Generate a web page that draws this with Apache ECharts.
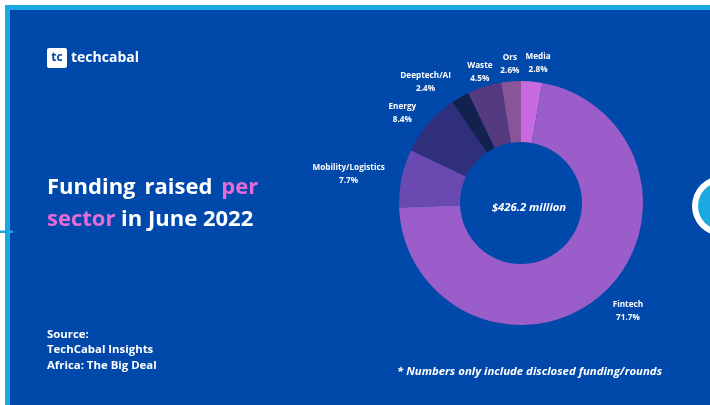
<!DOCTYPE html>
<html>
<head>
<meta charset="utf-8">
<script src="https://cdn.jsdelivr.net/npm/echarts@6/dist/echarts.min.js"></script>
<style>
html,body{margin:0;padding:0;background:#fff;}
#main{width:710px;height:405px;}
</style>
</head>
<body>
<div id="main"></div>
<script>
const sectors = ['Media', 'Fintech', 'Mobility/Logistics', 'Energy', 'Deeptech/AI', 'Waste', 'Ors'];
const shares = [2.8, 71.7, 7.7, 8.4, 2.4, 4.5, 2.6];
const sliceColors = ['#c96be0', '#9a5dc9', '#6a49b0', '#2f2f7c', '#13214f', '#553a80', '#8a5598'];
const totalLabel = '$426.2 million';

// small hand-placement tweaks of the outside labels (pixels), as in the designed original
const labelNudge = {
  'Media': [5, -4],
  'Ors': [0, -3],
  'Waste': [1, 3],
  'Deeptech/AI': [-19, 12],
  'Energy': [-7, 6],
  'Mobility/Logistics': [5, 8],
  'Fintech': [10, -3]
};

const chart = echarts.init(document.getElementById('main'));
const FONT = '"Open Sans", "Noto Sans", sans-serif';
const CENTER = [521, 203];
const RADIUS = [61, 122];
const GAP = 0;
const XSPREAD = 1.6;

function placeLabel(params) {
  const pts = params.labelLinePoints;
  const rect = params.labelRect;
  let dx, dy, x0, y0;
  if (pts && pts.length >= 2) {
    x0 = pts[0][0]; y0 = pts[0][1];
    dx = x0 - CENTER[0]; dy = y0 - CENTER[1];
  } else {
    const total = shares.reduce((a, b) => a + b, 0);
    let before = 0;
    for (let i = 0; i < params.dataIndex; i++) before += shares[i];
    const mid = (before + shares[params.dataIndex] / 2) / total * Math.PI * 2;
    dx = Math.sin(mid); dy = -Math.cos(mid);
    x0 = CENTER[0] + dx * RADIUS[1]; y0 = CENTER[1] + dy * RADIUS[1];
  }
  const len = Math.sqrt(dx * dx + dy * dy) || 1;
  dx /= len; dy /= len;
  const off = GAP + Math.abs(dx) * XSPREAD * rect.width / 2 + Math.abs(dy) * rect.height / 2;
  const nudge = labelNudge[sectors[params.dataIndex]] || [0, 0];
  return { x: x0 + dx * off + nudge[0], y: y0 + dy * off + nudge[1], align: 'center', verticalAlign: 'middle' };
}

chart.setOption({
  backgroundColor: '#ffffff',
  animation: false,
  title: {
    text: totalLabel,
    left: CENTER[0] + 3, top: CENTER[1],
    textAlign: 'center', textVerticalAlign: 'middle',
    textStyle: { color: '#ffffff', fontFamily: FONT, fontWeight: 'bold', fontStyle: 'italic', fontSize: 11.3 }
  },
  graphic: [
    { type: 'rect', shape: { x: 5, y: 5, width: 705, height: 400 }, style: { fill: '#1ba9e1' }, z: 0 },
    { type: 'rect', shape: { x: 10, y: 10, width: 700, height: 395 }, style: { fill: '#0049ab' }, z: 1 },
    { type: 'rect', shape: { x: 0, y: 230.5, width: 13, height: 2.5 }, style: { fill: '#1ba9e1' }, z: 2 },
    { type: 'circle', shape: { cx: 722, cy: 206, r: 30 }, style: { fill: '#ffffff' }, z: 1 },
    { type: 'circle', shape: { cx: 722, cy: 206, r: 24 }, style: { fill: '#1ba9e1' }, z: 2 },
    { type: 'rect', shape: { x: 47, y: 48, width: 20, height: 20, r: 2 }, style: { fill: '#ffffff' }, z: 3 },
    { type: 'text', x: 57, y: 58, style: { text: 'tc', fill: '#0049ab', font: 'bold 12px ' + FONT, textAlign: 'center', textVerticalAlign: 'middle' }, z: 4 },
    { type: 'text', x: 71, y: 58, style: { text: 'techcabal', fill: '#ffffff', font: 'bold 14px ' + FONT, textVerticalAlign: 'middle' }, z: 4 },
    { type: 'text', x: 47, y: 172, style: {
        text: '{w|Funding}{g| }{w|raised}{g| }{p|per}\n{p|sector}{w| in June 2022}',
        rich: {
          w: { fill: '#ffffff', font: 'bold 22px ' + FONT, lineHeight: 32 },
          p: { fill: '#e66bd6', font: 'bold 22px ' + FONT, lineHeight: 32 },
          g: { fill: '#ffffff', font: 'bold 22px ' + FONT, lineHeight: 32, width: 9 }
        }
      }, z: 4 },
    { type: 'text', x: 47, y: 326.5, style: { text: 'Source:\nTechCabal Insights\nAfrica: The Big Deal', fill: '#ffffff', font: 'bold 11.4px ' + FONT, lineHeight: 15.5 }, z: 4 },
    { type: 'text', x: 397, y: 372, style: { text: '* Numbers only include disclosed funding/rounds', fill: '#ffffff', font: 'italic bold 11.4px ' + FONT, textVerticalAlign: 'middle' }, z: 4 }
  ],
  series: [{
    type: 'pie',
    center: CENTER,
    radius: RADIUS,
    startAngle: 90,
    clockwise: true,
    avoidLabelOverlap: false,
    z: 5,
    data: sectors.map((s, i) => ({ name: s, value: shares[i], itemStyle: { color: sliceColors[i] } })),
    label: {
      show: true,
      position: 'outside',
      formatter: p => p.name + '\n' + p.value + '%',
      color: '#ffffff',
      fontFamily: FONT,
      fontWeight: 'bold',
      fontSize: 8.2,
      lineHeight: 13
    },
    labelLine: { show: true, length: 10, length2: 0, lineStyle: { opacity: 0, width: 0 } },
    labelLayout: placeLabel,
    emphasis: { disabled: true }
  }]
});
</script>
</body>
</html>
